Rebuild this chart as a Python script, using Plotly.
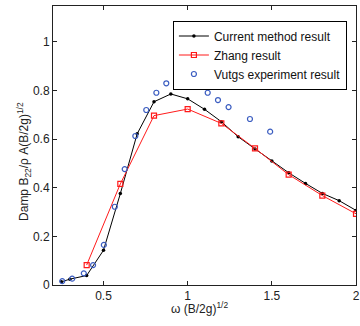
import plotly.graph_objects as go

cur_x = [0.25, 0.3, 0.4, 0.5, 0.6, 0.7, 0.8, 0.9, 1.0, 1.1, 1.2, 1.3, 1.4, 1.5, 1.6, 1.7, 1.8, 1.9, 2.0]
cur_y = [0.013, 0.024, 0.039, 0.143, 0.376, 0.622, 0.754, 0.786, 0.766, 0.723, 0.672, 0.610, 0.560, 0.510, 0.462, 0.418, 0.377, 0.347, 0.307]

zh_x = [0.4, 0.6, 0.8, 1.0, 1.2, 1.4, 1.6, 1.8, 2.0]
zh_y = [0.082, 0.416, 0.697, 0.724, 0.665, 0.562, 0.454, 0.368, 0.293]

vu_x = [0.255, 0.314, 0.383, 0.438, 0.502, 0.567, 0.626, 0.689, 0.754, 0.814, 0.873, 0.935,
        0.997, 1.058, 1.119, 1.18, 1.243, 1.37, 1.49]
vu_y = [0.016, 0.026, 0.048, 0.082, 0.165, 0.322, 0.477, 0.613, 0.72, 0.791, 0.83, 0.848,
        0.841, 0.826, 0.791, 0.761, 0.732, 0.683, 0.631]

x_ticks = [0.5, 1, 1.5, 2]
x_ticklabels = ["0.5", "1", "1.5", "2"]
y_ticks = [0, 0.2, 0.4, 0.6, 0.8, 1.0]
y_ticklabels = ["0", "0.2", "0.4", "0.6", "0.8", "1"]

fig = go.Figure()
fig.add_trace(go.Scatter(x=cur_x, y=cur_y, mode="lines+markers", name="Current method result",
                         line=dict(color="black", width=1),
                         marker=dict(symbol="circle", size=3.5, color="black")))
fig.add_trace(go.Scatter(x=zh_x, y=zh_y, mode="lines+markers", name="Zhang result",
                         line=dict(color="#ff1a1a", width=1),
                         marker=dict(symbol="square-open", size=5, color="#ff1a1a", line=dict(width=1.2))))
fig.add_trace(go.Scatter(x=vu_x, y=vu_y, mode="markers", name="Vutgs experiment result",
                         marker=dict(symbol="circle-open", size=5, color="#3a5cc0", line=dict(width=1.2))))

font_family = "Liberation Sans, Arial, sans-serif"
fig.update_layout(
    width=360, height=326,
    margin=dict(l=53, r=4, t=6, b=41, autoexpand=False),
    paper_bgcolor="white", plot_bgcolor="white",
    font=dict(family=font_family, size=12, color="#222"),
    showlegend=True,
    legend=dict(x=0.97, y=0.948, xanchor="right", yanchor="top",
                bgcolor="white", bordercolor="black", borderwidth=1,
                font=dict(size=12, color="#111"), tracegroupgap=0,
                itemwidth=30),
    xaxis=dict(range=[0.2, 2.0], tickvals=x_ticks, ticktext=x_ticklabels,
               showline=True, linecolor="#222", linewidth=1, mirror="ticks",
               ticks="inside", ticklen=4, tickcolor="#222", showgrid=False, zeroline=False,
               ticklabeloverflow="allow"),
    yaxis=dict(range=[0, 1.148], tickvals=y_ticks, ticktext=y_ticklabels,
               showline=True, linecolor="#222", linewidth=1, mirror="ticks",
               ticks="inside", ticklen=4, tickcolor="#222", showgrid=False, zeroline=False),
    annotations=[
        dict(text="ω (B/2g)<sup>1/2</sup>", xref="paper", yref="paper", x=0.482, y=-0.082,
             xanchor="center", yanchor="middle", showarrow=False, font=dict(size=12, color="#222")),
        dict(text="Damp B<sub>22</sub>/ρ A(B/2g)<sup>1/2</sup>", xref="paper", yref="paper",
             x=-0.0957, y=0.441, xanchor="center", yanchor="middle", textangle=-90,
             showarrow=False, font=dict(size=12, color="#222")),
    ],
)

fig.write_html("out.html", config={"displayModeBar": False},
               post_script="document.body.style.margin='0';")
